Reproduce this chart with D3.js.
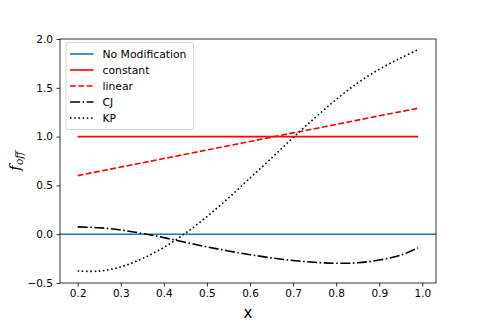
<!DOCTYPE html>
<html><head><meta charset="utf-8">
<script src="https://cdn.jsdelivr.net/npm/d3@7"></script>
<style>body{margin:0;background:#fff}svg text{font-family:"DejaVu Sans",sans-serif}</style>
</head><body><svg id="c" width="485" height="323"></svg>
<script>
const xs = [0.20,0.25,0.30,0.35,0.40,0.45,0.50,0.55,0.60,0.65,0.70,0.75,0.80,0.85,0.90,0.95,0.99];
const constant = [1,1,1,1,1,1,1,1,1,1,1,1,1,1,1,1,1];
const linear = [0.600,0.644,0.688,0.731,0.775,0.819,0.863,0.906,0.950,0.994,1.038,1.081,1.125,1.169,1.213,1.256,1.291];
const cj = [0.075,0.066,0.043,0.008,-0.035,-0.083,-0.13,-0.172,-0.21,-0.243,-0.269,-0.288,-0.298,-0.293,-0.265,-0.215,-0.14];
const kp = [-0.377,-0.378,-0.335,-0.25,-0.135,0.01,0.18,0.37,0.575,0.78,0.99,1.19,1.38,1.55,1.69,1.805,1.89];
const noMod = [0,0];
const xTicks = [0.2,0.3,0.4,0.5,0.6,0.7,0.8,0.9,1.0];
const yTicks = [-0.5,0.0,0.5,1.0,1.5,2.0];
const seriesNames = ["No Modification","constant","linear","CJ","KP"];

const svg = d3.select("#c");
const L=60, R=436, T=39, B=283;
const x = d3.scaleLinear().domain([0.1589,1.0318]).range([L,R]);
const y = d3.scaleLinear().domain([-0.5,2.0]).range([B,T]);

const g = svg.append("g");
const line = d3.line().x(d=>x(d[0])).y(d=>y(d[1]));
const styles = [
  {color:"#1f77b4", dash:null},
  {color:"#ff0000", dash:null},
  {color:"#ff0000", dash:"5.8,2.5"},
  {color:"#000000", dash:"10,2.5,1.6,2.5"},
  {color:"#000000", dash:"1.6,2.6"}
];
const data = [
  x.domain().map((d,i)=>[d,noMod[i]]),
  xs.map((d,i)=>[d,constant[i]]),
  xs.map((d,i)=>[d,linear[i]]),
  xs.map((d,i)=>[d,cj[i]]),
  xs.map((d,i)=>[d,kp[i]])
];
const smooth = d3.line().x(d=>x(d[0])).y(d=>y(d[1])).curve(d3.curveCatmullRom.alpha(0.5));
data.forEach((dd,i)=>{
  g.append("path").attr("d", (i>=3?smooth:line)(dd)).attr("fill","none")
   .attr("stroke",styles[i].color).attr("stroke-width",1.6)
   .attr("stroke-dasharray",styles[i].dash);
});

// axes
const xa = svg.append("g").attr("transform",`translate(0,${B})`)
  .call(d3.axisBottom(x).tickValues(xTicks).tickFormat(d3.format(".1f")).tickSize(3.5).tickPadding(3.5));
const ya = svg.append("g").attr("transform",`translate(${L},0)`)
  .call(d3.axisLeft(y).tickValues(yTicks).tickFormat(d3.format(".1f")).tickSize(3.5).tickPadding(3.5));
[xa,ya].forEach(a=>{a.select(".domain").remove();a.selectAll("text").attr("font-size",10.5).attr("fill","#000").style("font-family","DejaVu Sans");a.selectAll("line").attr("stroke","#000").attr("stroke-width",0.8);});
svg.append("rect").attr("x",L).attr("y",T).attr("width",R-L).attr("height",B-T)
  .attr("fill","none").attr("stroke","#000").attr("stroke-width",0.8);

// labels
svg.append("text").attr("x",(L+R)/2).attr("y",318).attr("text-anchor","middle")
  .attr("font-size",15).text("x");
const yl = svg.append("text").attr("transform",`translate(20,${(T+B)/2}) rotate(-90)`)
  .attr("text-anchor","middle").attr("font-size",15);
yl.append("tspan").attr("font-style","italic").attr("font-family","DejaVu Serif").text("f");
yl.append("tspan").attr("font-style","italic").attr("font-family","DejaVu Serif").attr("font-size",10.5).attr("dy",3).text("off");

// legend
const lg = svg.append("g");
lg.append("rect").attr("x",66).attr("y",42.5).attr("width",127.5).attr("height",87)
  .attr("rx",2.5).attr("fill","#fff").attr("fill-opacity",0.8).attr("stroke","#cccccc").attr("stroke-width",0.8);
seriesNames.forEach((n,i)=>{
  const yy = 54 + i*16;
  lg.append("line").attr("x1",70).attr("x2",93.5).attr("y1",yy).attr("y2",yy)
    .attr("stroke",styles[i].color).attr("stroke-width",1.6).attr("stroke-dasharray",styles[i].dash);
  lg.append("text").attr("x",102.5).attr("y",yy+3.8).attr("font-size",10.8).text(n);
});
</script></body></html>
